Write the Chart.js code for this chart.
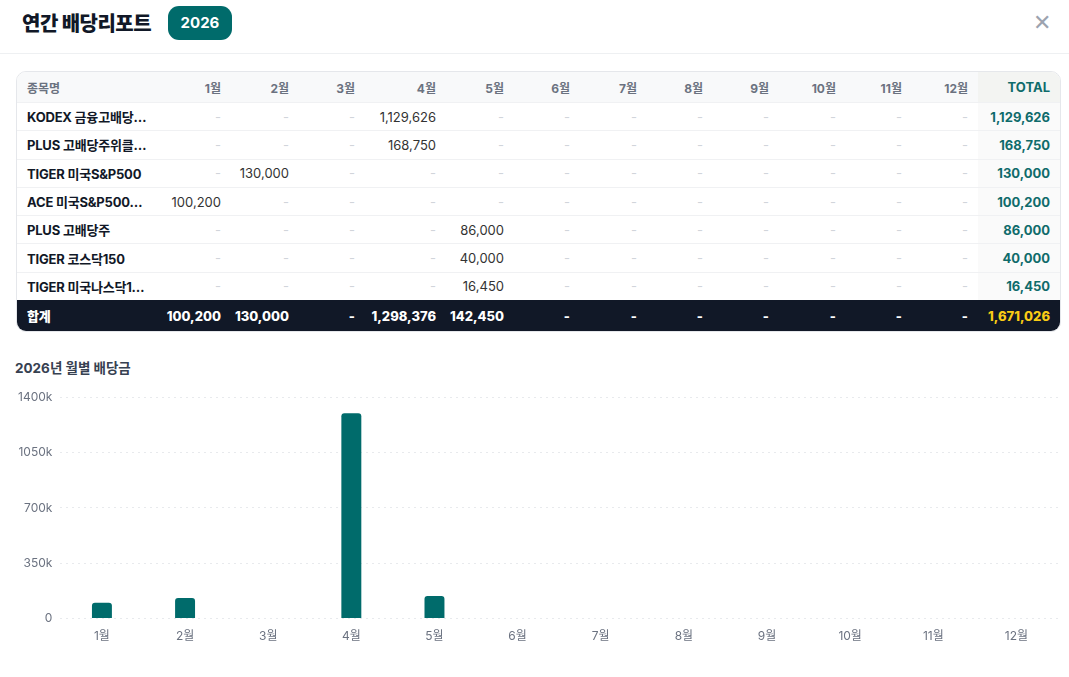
<!DOCTYPE html>
<html lang="ko">
<head>
<meta charset="utf-8">
<title>연간 배당리포트</title>
<script src="https://cdn.jsdelivr.net/npm/chart.js@4.4.1/dist/chart.umd.min.js"></script>
<style>
  html, body { margin: 0; padding: 0; background: #fff; }
  body { width: 1069px; height: 677px; position: relative; overflow: hidden;
         font-family: 'Inter', 'Noto Sans CJK KR', sans-serif; color: #111827; }
  .head { position: absolute; left: 0; top: 0; width: 1069px; height: 53px; border-bottom: 1px solid #eef0f2; }
  .head h1 { position: absolute; left: 22px; top: 8px; margin: 0; font-size: 20px; font-weight: 800; letter-spacing: -0.5px; }
  .badge { position: absolute; left: 168px; top: 6px; width: 64px; height: 34px; border-radius: 11px;
           background: #006b6b; color: #fff; font-weight: 700; font-size: 15px; line-height: 34px; text-align: center; }
  .close { position: absolute; left: 1033px; top: 12px; width: 18px; height: 20px; color: #9ca3af; font-size: 22px; line-height: 20px; }
  .wrap { position: absolute; left: 16px; top: 71px; width: 1043px; border: 1px solid #e5e7eb; border-radius: 10px; overflow: hidden; }
  table { border-collapse: collapse; table-layout: fixed; width: 1043px; font-size: 13px; }
  th, td { padding: 0 10px 0 0; text-align: right; white-space: nowrap; overflow: hidden; }
  th { height: 30px; background: #f8f9fa; color: #6b7280; font-size: 12px; font-weight: 700; }
  td { height: 27.3px; border-top: 1px solid #f0f1f3; color: #333; }
  th.name, td.name { text-align: left; padding-left: 10px; overflow: visible; }
  td.name { font-weight: 700; color: #111827; letter-spacing: -0.2px; }
  td.dash { color: #d1d5db; }
  th.tot { background: #f3f4f2; color: #0f6b6b; font-size: 13px; }
  td.tot { background: #fafafa; color: #0f6b6b; font-weight: 700; }
  tr.sum td { background: #111827; color: #fff; font-weight: 800; height: 31px; border-top: none; }
  tr.sum td.tot { color: #facc15; }
  .ctitle { position: absolute; left: 15px; top: 357px; font-size: 13.5px; font-weight: 700; color: #374151; }
  .cbox { position: absolute; left: 10px; top: 382px; width: 1048px; height: 265px; }
</style>
</head>
<body>
<div class="head">
  <h1>연간 배당리포트</h1>
  <div class="badge">2026</div>
  <div class="close">✕</div>
</div>
<div class="wrap"><table id="tbl"></table></div>
<div class="ctitle">2026년 월별 배당금</div>
<div class="cbox"><canvas id="chart"></canvas></div>
<script>
// 월 / 종목 / 종목별 월 배당금
const months = ['1월','2월','3월','4월','5월','6월','7월','8월','9월','10월','11월','12월'];
const stocks = ['KODEX 금융고배당…','PLUS 고배당주위클…','TIGER 미국S&P500','ACE 미국S&P500…','PLUS 고배당주','TIGER 코스닥150','TIGER 미국나스닥1…'];
const kodexFin  = [0,0,0,1129626,0,0,0,0,0,0,0,0];
const plusWeek  = [0,0,0,168750,0,0,0,0,0,0,0,0];
const tigerSP   = [0,130000,0,0,0,0,0,0,0,0,0,0];
const aceSP     = [100200,0,0,0,0,0,0,0,0,0,0,0];
const plusHigh  = [0,0,0,0,86000,0,0,0,0,0,0,0];
const tigerKq   = [0,0,0,0,40000,0,0,0,0,0,0,0];
const tigerNdq  = [0,0,0,0,16450,0,0,0,0,0,0,0];
const rows = [kodexFin, plusWeek, tigerSP, aceSP, plusHigh, tigerKq, tigerNdq];
const monthTotals = [100200,130000,0,1298376,142450,0,0,0,0,0,0,0];
const yTicks = [0,350000,700000,1050000,1400000];

const colW = [136,78,68,66,81,68,66,67,66,66,67,66,66,82];
const fmt = v => v ? v.toLocaleString('en-US') : '-';

// table
let html = '<colgroup>' + colW.map(w => `<col style="width:${w}px">`).join('') + '</colgroup>';
html += '<tr><th class="name">종목명</th>' + months.map(m => `<th>${m}</th>`).join('') + '<th class="tot">TOTAL</th></tr>';
rows.forEach((r, i) => {
  const tot = r.reduce((a, b) => a + b, 0);
  html += `<tr><td class="name">${stocks[i].replace('&','&amp;')}</td>` +
    r.map(v => `<td class="${v ? '' : 'dash'}">${fmt(v)}</td>`).join('') +
    `<td class="tot">${fmt(tot)}</td></tr>`;
});
const grand = monthTotals.reduce((a, b) => a + b, 0);
html += '<tr class="sum"><td class="name">합계</td>' + monthTotals.map(v => `<td>${fmt(v)}</td>`).join('') +
  `<td class="tot">${fmt(grand)}</td></tr>`;
document.getElementById('tbl').innerHTML = html;

// chart
new Chart(document.getElementById('chart'), {
  type: 'bar',
  data: {
    labels: months,
    datasets: [{
      label: '배당금',
      data: monthTotals,
      backgroundColor: '#006b6b',
      borderRadius: 3,
      borderSkipped: 'bottom',
      barPercentage: 0.3,
      categoryPercentage: 0.8
    }]
  },
  options: {
    responsive: true,
    maintainAspectRatio: false,
    animation: false,
    plugins: { legend: { display: false }, tooltip: { enabled: false } },
    scales: {
      x: {
        grid: { display: false },
        border: { display: false },
        ticks: { color: '#6b7280', font: { family: 'Inter, "Noto Sans CJK KR"', size: 12 } }
      },
      y: {
        min: 0, max: 1400000,
        afterBuildTicks: s => { s.ticks = yTicks.map(v => ({ value: v })); },
        grid: { color: '#e8eaed', drawTicks: false },
        border: { display: false, dash: [2, 4] },
        ticks: {
          padding: 8,
          color: '#6b7280',
          font: { family: 'Inter, "Noto Sans CJK KR"', size: 12 },
          callback: v => v === 0 ? '0' : (v / 1000) + 'k'
        }
      }
    }
  }
});
</script>
</body>
</html>
